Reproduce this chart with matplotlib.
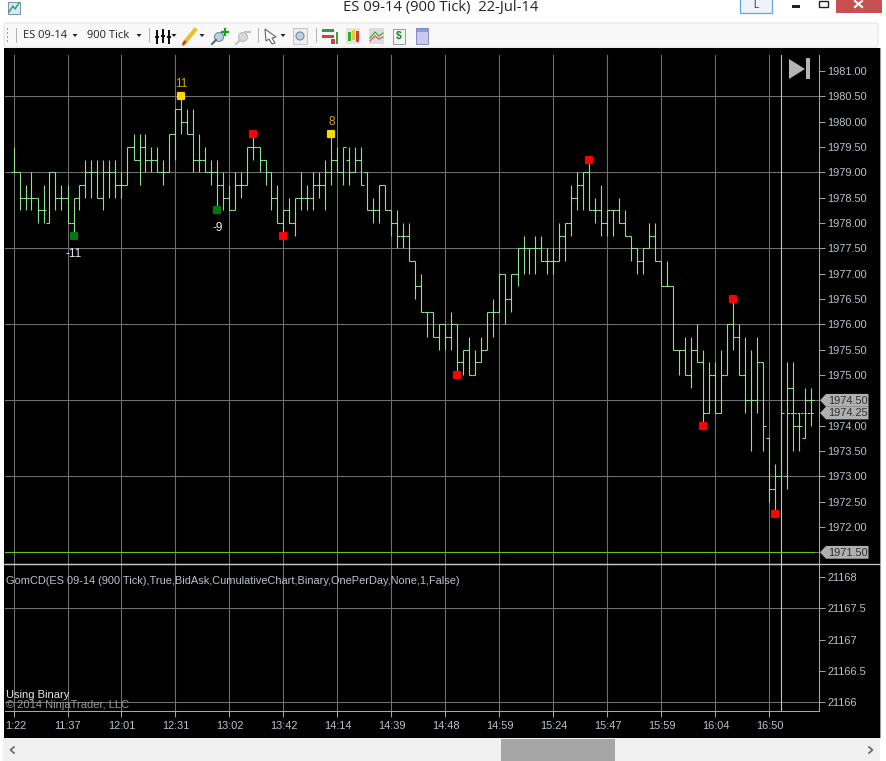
import matplotlib
matplotlib.use("Agg")
import matplotlib.pyplot as plt
from matplotlib.markers import MarkerStyle
from matplotlib.patches import Rectangle, Polygon, Circle, FancyBboxPatch
from matplotlib.transforms import ScaledTranslation

plt.rcParams['font.family'] = ['Liberation Sans', 'DejaVu Sans']

# ---- data ----
highs = [1979.5,1979,1978.75,1979,1978.5,1978.75,1979,1979,1978.75,1978.75,
 1978.5,1978.75,1979.25,1979.25,1979.25,1979.25,1979.25,1979.25,1979,1979.5,
 1979.75,1979.75,1979.75,1979.5,1979.5,1979.25,1979.75,1980.25,1980.5,1980.25,
 1980.25,1979.75,1979.5,1979.25,1979.25,1979,1978.75,1979,1979,1979.5,
 1979.75,1979.5,1979.25,1979,1978.75,1978.25,1978.5,1978.5,1979,1978.75,
 1979,1979,1979.25,1979.75,1979.5,1979.5,1979.5,1979.5,1979.5,1979,
 1978.5,1978.75,1978.75,1978.25,1978.25,1978,1978,1977.25,1977,1976.25,
 1976.25,1976,1976,1976.25,1976,1975.5,1975.75,1975.5,1975.75,1976.25,
 1976.5,1977,1977,1977,1977.5,1977.75,1977.5,1977.75,1977.75,1977.5,
 1977.5,1978,1978,1978.75,1979,1979,1979.25,1978.5,1978.75,1978.25,
 1978.25,1978.5,1978.25,1977.75,1977.5,1977.5,1978,1978,1977.25,1977.25,
 1976.75,1975.5,1975.75,1975.75,1976,1975.5,1975.25,1975.25,1975.5,1976,
 1976.5,1976,1975.75,1975.5,1975.75,1975.25,1973.75,1973.25,1974.5,1975.25,
 1975.25,1974.25,1974.75,1974.75]
lows = [1979,1978.25,1978.25,1978.25,1978,1978,1978,1978.25,1978.25,1978,
 1977.75,1978.25,1978.5,1978.5,1978.5,1978.25,1978.5,1978.5,1978.5,1978.75,
 1979.25,1978.75,1979,1979,1979,1978.75,1979,1979.25,1979.75,1979.75,
 1979,1979,1979,1978.75,1978.25,1978.25,1978.25,1978.25,1978.5,1978.75,
 1979.25,1979,1978.75,1978.25,1978,1977.75,1978,1977.75,1978.25,1978.25,
 1978.25,1978.5,1978.25,1978.75,1979,1978.75,1978.75,1979,1978.75,1978.25,
 1978,1978,1978.25,1977.75,1977.5,1977.5,1977.25,1976.5,1976.25,1975.75,
 1975.75,1975.5,1975.5,1975.5,1975,1975,1975,1975,1975.25,1975.5,
 1975.75,1976.25,1976,1976.25,1976.75,1977,1977,1977,1977.25,1977,
 1977,1977.25,1977.25,1977.75,1978.25,1978.25,1978.25,1978,1977.75,1977.75,
 1977.75,1978,1977.75,1977.25,1977,1977,1977.5,1977.25,1976.75,1976.75,
 1975.5,1975,1975,1974.75,1975.25,1974,1974.25,1974.25,1974.25,1975,
 1975.5,1975,1974.25,1973.5,1974.25,1973.5,1972.5,1972.25,1973,1972.75,
 1973.5,1973.5,1973.75,1974]
opens = [1979,1979,1978.5,1978.5,1978.5,1978.25,1978,1979,1978.5,1978.5,
 1978,1978.5,1978.75,1979,1979,1978.5,1979,1979,1978.75,1978.75,
 1979.5,1979.25,1979.5,1979.25,1979.25,1979,1979,1979.75,1980.25,1980,
 1979.75,1979.25,1979.25,1979,1979,1978.75,1978.5,1978.25,1978.75,1978.75,
 1979.5,1979.5,1979.25,1979,1978.5,1978,1978.25,1978,1978.5,1978.5,
 1978.5,1978.75,1978.75,1979,1979.25,1979,1979.25,1979,1979.25,1979,
 1978.25,1978.25,1978.75,1978.25,1978,1977.75,1977.75,1977.25,1976.75,1976.25,
 1976.25,1975.75,1976,1975.75,1976,1975.25,1975.5,1975,1975.25,1975.5,
 1976.25,1976.25,1977,1976.5,1977,1977.5,1977.5,1977.5,1977.5,1977.25,
 1977.25,1977.25,1977.75,1978,1978.5,1978.75,1979,1978.25,1978.25,1978,
 1978.25,1978.25,1978,1977.75,1977.5,1977.25,1977.5,1977.75,1977.25,1976.75,
 1976.75,1975.5,1975.5,1975,1975.5,1975.25,1974.25,1975,1974.25,1975,
 1976,1975.75,1975,1974.5,1974.5,1975.25,1973.75,1972.75,1973,1973,
 1974.75,1974,1973.75,1974.5]
closes = [1979,1978.5,1978.5,1978.5,1978.25,1978.25,1979,1978.5,1978.5,1978,
 1978.5,1978.75,1979,1979,1978.5,1979,1979,1978.75,1978.75,1979.5,
 1979.25,1979.5,1979.25,1979.25,1979,1979,1979.75,1980.25,1980,1979.75,
 1979.25,1979.25,1979,1979,1978.75,1978.5,1978.25,1978.75,1978.75,1979.5,
 1979.5,1979.25,1979,1978.5,1978,1978.25,1978,1978.5,1978.5,1978.5,
 1978.75,1978.75,1979,1979.25,1979,1979.5,1979,1979.25,1978.75,1978.25,
 1978.25,1978.75,1978.25,1978,1977.75,1977.75,1977.25,1976.75,1976.25,1976.25,
 1975.75,1976,1975.75,1976,1975.25,1975.5,1975,1975.25,1975.5,1976.25,
 1976.25,1977,1976.5,1977,1977.5,1977.5,1977.5,1977.5,1977.25,1977.25,
 1977.25,1977.75,1978,1978.5,1978.75,1979,1978.25,1978.25,1978,1978.25,
 1978.25,1978,1977.75,1977.5,1977.25,1977.5,1977.75,1977.25,1976.75,1976.75,
 1975.5,1975.5,1975,1975.5,1975.25,1974.25,1975,1974.25,1975,1976,
 1975.75,1975,1974.5,1974.5,1975.25,1974,1972.75,1973,1974.25,1974.75,
 1974,1974,1974.5,1974.5]

red_idx = [40, 45, 74, 96, 115, 120, 127]
red_val = [1979.75, 1977.75, 1975, 1979.25, 1974, 1976.5, 1972.25]
green_idx = [10, 34]
green_val = [1977.75, 1978.25]
green_lab = ['-11', '-9']
gold_idx = [28, 53]
gold_val = [1980.5, 1979.75]
gold_lab = ['11', '8']

time_idx = [0, 9, 18, 27, 36, 45, 54, 63, 72, 81, 90, 99, 108, 117, 126]
time_lab = ['1:22','11:37','12:01','12:31','13:02','13:42','14:14','14:39',
            '14:48','14:59','15:24','15:47','15:59','16:04','16:50']
price_ticks = [1981,1980.5,1980,1979.5,1979,1978.5,1978,1977.5,1977,1976.5,
               1976,1975.5,1975,1974,1973.5,1973,1972.5,1972]
price_grid = [1980.5, 1979, 1977.5, 1976, 1974.5, 1973, 1971.5]
flags = [1974.5, 1974.25, 1971.5]
ind_ticks = [21168, 21167.5, 21167, 21166.5, 21166]
ind_lab = ['21168', '21167.5', '21167', '21166.5', '21166']
ind_grid = [21167.5, 21166]
cursor_idx = 128
level_line = 1971.5
last_close = 1974.25

W, H = 887, 761
BAR = '#8ee28e'
GRID = '#707070'
TXT = '#bcc2c8'

fig = plt.figure(figsize=(W/100, H/100), dpi=100, facecolor='white')

# ---- window chrome (pixel coordinates) ----
bg = fig.add_axes([0, 0, 1, 1], zorder=0)
bg.set_xlim(0, W); bg.set_ylim(H, 0); bg.axis('off')
def rect(x0, y0, x1, y1, c, **k):
    bg.add_patch(Rectangle((x0, y0), x1-x0, y1-y0, fc=c, ec='none', **k))
rect(4, 48, 880, 738, 'black')
rect(880, 48, 881, 738, '#9a9a9a')
rect(3, 738, 880, 761, '#f0f0f0')
rect(501, 739, 615, 761, '#a6a6a6')
bg.plot([869, 872.5, 869], [747, 750, 753], color='#666666', lw=1.2)
bg.plot([14, 10.5, 14], [747, 750, 753], color='#666666', lw=1.2)
# toolbar
bg.add_patch(FancyBboxPatch((4, 23), 874, 24, boxstyle='round,pad=0,rounding_size=2',
                            fc='#f8f8f8', ec='#e2e2e2', lw=0.7))
for yy in (28, 32, 36, 40):
    rect(7, yy, 8, yy+1.5, '#9a9a9a')
for xx in (16, 149, 258, 316):
    rect(xx, 28, xx+1, 43, '#b5b5b5')
def arrow(x):
    bg.add_patch(Polygon([(x-2.5, 34), (x+2.5, 34), (x, 37)], fc='#222222', ec='none'))
for xx in (75, 139, 174, 202, 283):
    arrow(xx)
bg.text(23, 35.5, 'ES 09-14', fontsize=8, family=['Open Sans'], va='center', color='#222222')
bg.text(87, 35.5, '900 Tick', fontsize=8, family=['Open Sans'], va='center', color='#222222')
# bars icon
for xx, y0, y1 in ((156, 30, 44), (162, 29, 43), (168, 30, 44)):
    rect(xx, y0, xx+2, y1, '#111111')
    rect(xx-1, (y0+y1)/2-1, xx+3, (y0+y1)/2+1, '#111111')
# pencil
bg.plot([185, 195], [42, 30], color='#e8c030', lw=3)
bg.plot([183.5, 185], [44, 42], color='#c05020', lw=2)
# zoom icons
bg.add_patch(Circle((219, 37), 4.5, fc='#b8d0e8', ec='#7a8a9a', lw=0.8))
bg.plot([212, 216], [44, 40], color='#666666', lw=1.5)
bg.plot([222, 228], [32, 32], color='#20a020', lw=1.6)
bg.plot([225, 225], [29, 35], color='#20a020', lw=1.6)
bg.add_patch(Circle((243, 37), 4.5, fc='#d8d8d8', ec='#bbbbbb', lw=0.8))
bg.plot([236, 240], [44, 40], color='#c4c4c4', lw=1.5)
bg.plot([245, 250], [32, 32], color='#c4c4c4', lw=1.6)
# cursor
bg.add_patch(Polygon([(265, 29), (276, 37), (272, 38), (275, 43), (272, 44), (269, 39), (266, 41)],
                     fc='white', ec='#666666', lw=0.8))
rect(293, 28, 307, 44, '#eeeeee')
bg.add_patch(Rectangle((293, 28), 14, 16, fc='none', ec='#c4c4c4', lw=0.7))
bg.add_patch(Circle((300, 36), 4, fc='#b8d0e8', ec='#7a8a9a', lw=0.8))
# chart-type icons
rect(322, 29, 334, 32, '#30a030'); rect(322, 35, 334, 38, '#d04040')
rect(331, 39, 335, 44, '#d04040'); rect(336, 32, 338, 44, '#40a040')
rect(346, 28, 360, 44, '#e4e4e4')
rect(348, 32, 351, 41, '#30b030'); rect(352, 30, 355, 40, '#e0d030'); rect(356, 31, 359, 42, '#d04040')
rect(369, 28, 384, 44, '#dcdcdc')
bg.plot([370, 375, 379, 383], [38, 32, 36, 33], color='#40b040', lw=0.9)
bg.plot([370, 375, 379, 383], [41, 36, 39, 37], color='#d06060', lw=0.9)
rect(393, 29, 405, 44, '#f4f4f4')
bg.add_patch(Rectangle((393, 29), 12, 15, fc='none', ec='#999999', lw=0.7))
bg.text(399, 36.5, '$', fontsize=7.5, weight='bold', color='#208040', ha='center', va='center')
rect(416, 28, 428, 44, '#c8c8ee')
rect(416, 28, 428, 32, '#7fa0d8')
bg.add_patch(Rectangle((416, 28), 12, 16, fc='none', ec='#8a8ac8', lw=0.7))
# window title + buttons
bg.text(441, 7.5, 'ES 09-14 (900 Tick)  22-Jul-14', fontsize=10.6, family=['Open Sans'],
        ha='center', va='center', color='#222222')
rect(8, 2, 20, 14, '#dce6f2')
bg.plot([9, 13, 15, 19], [12, 6, 9, 3], color='#30a050', lw=1)
bg.add_patch(Rectangle((8, 2), 12, 12, fc='none', ec='#7090b8', lw=0.7))
rect(740, 0, 772, 13, '#eef3f9')
bg.add_patch(Rectangle((740, -2), 32, 15, fc='none', ec='#5ca8e0', lw=0.9))
bg.text(756, 4.5, 'L', fontsize=7, color='#333333', ha='center', va='center')
rect(792, 5, 800, 7.5, '#222222')
bg.add_patch(Rectangle((819, 1), 9, 6, fc='none', ec='#222222', lw=1))
rect(836, 0, 882, 13, '#c75050')
bg.plot([855, 862], [1, 7], color='white', lw=1.5)
bg.plot([855, 862], [7, 1], color='white', lw=1.5)
# jump-to-end icon on the chart
bg.add_patch(Polygon([(789, 59), (805, 69), (789, 79)], fc='#b4b4b4', ec='none'))
rect(806, 58, 810, 79, '#b4b4b4')

# ---- price panel ----
X0, X1 = 5.0, 819.5
Y_T, Y_S, Y_B = 55.0, 564.0, 711.3
xlim = ((X0-13.5)/6, (X1-13.5)/6)
def price(y):
    return 1979 - (y-172.3)/50.67
def indic(y):
    return 21166 + (702.3-y)/62.67

ax = fig.add_axes([X0/W, 1-Y_S/H, (X1-X0)/W, (Y_S-Y_T)/H], zorder=2)
ax2 = fig.add_axes([X0/W, 1-Y_B/H, (X1-X0)/W, (Y_B-Y_S)/H], zorder=2)
ax.set_ylim(price(Y_S), price(Y_T))
ax2.set_ylim(indic(Y_B), indic(Y_S))
for a in (ax, ax2):
    a.patch.set_alpha(0)
    a.set_xlim(*xlim)
    a.set_xticks(time_idx)
    a.yaxis.tick_right()
    a.grid(axis='x', color=GRID, lw=0.75, zorder=1)
    a.set_axisbelow(True)
    for s in ('left', 'top'):
        a.spines[s].set_visible(False)
    a.spines['right'].set_color('#a8a8a8'); a.spines['right'].set_linewidth(0.75)
    a.tick_params(axis='y', length=4.5, width=0.75, color='#a0a0a0', labelcolor=TXT,
                  labelsize=7.9, pad=1)
ax.spines['bottom'].set_color('#c8c8c8'); ax.spines['bottom'].set_linewidth(0.9)
ax2.spines['bottom'].set_color('#a8a8a8'); ax2.spines['bottom'].set_linewidth(0.75)
ax.tick_params(axis='x', length=0, labelbottom=False)
ax2.tick_params(axis='x', length=4.5, width=0.75, color='#a0a0a0', labelcolor=TXT,
                labelsize=7.9, pad=2.5)
ax2.set_xticklabels(time_lab)
t0 = ax2.xaxis.get_major_ticks()[0].label1
t0.set_transform(t0.get_transform() + ScaledTranslation(2.5/100, 0, fig.dpi_scale_trans))

ax.set_yticks(price_ticks)
ax.set_yticklabels([f'{v:.2f}' for v in price_ticks])
ax2.set_yticks(ind_ticks)
ax2.set_yticklabels(ind_lab)

for v in price_grid:
    ax.axhline(v, color=GRID, lw=0.75, zorder=1)
for v in ind_grid:
    ax2.axhline(v, color=GRID, lw=0.75, zorder=1)
ax.axvline(cursor_idx, color='#c4c4c4', lw=0.8, zorder=1.5)
ax2.axvline(cursor_idx, color='#c4c4c4', lw=0.8, zorder=1.5)

idx = list(range(len(highs)))
ax.vlines(idx, lows, highs, color=BAR, lw=0.8, zorder=3)
ax.hlines(opens, [i-0.5 for i in idx], idx, color=BAR, lw=0.8, zorder=3)
ax.hlines(closes, idx, [i+0.5 for i in idx], color=BAR, lw=0.8, zorder=3)

ax.plot([xlim[0], idx[-1]+0.4], [level_line, level_line], color='#66c414', lw=0.8, zorder=3)
ax.plot([idx[-5], idx[-1]+0.4], [last_close, last_close], color='#e8c8c8', lw=0.7,
        ls=(0, (2.5, 1)), zorder=3.5)

mk = MarkerStyle('s', joinstyle='round')
def dots(i, v, c):
    ln, = ax.plot(i, v, ls='none', marker=mk, ms=4.2, mfc=c, mec=c, mew=1.6, zorder=4)
    ln.set_snap(False)
dots(red_idx, red_val, '#ff0000')
dots(green_idx, green_val, '#007a10')
dots(gold_idx, gold_val, '#ffd700')
for i, v, s in zip(green_idx, green_val, green_lab):
    ax.annotate(s, (i, v), xytext=(0, -13), textcoords='offset points', ha='center',
                va='center', fontsize=8.5, color='#e6eef8', zorder=4)
for i, v, s in zip(gold_idx, gold_val, gold_lab):
    ax.annotate(s, (i, v), xytext=(0, 8.6), textcoords='offset points', ha='center',
                va='center', fontsize=8.5, color='#d8a800', zorder=4)

# indicator texts
ax2.text(1/814.5, 1-(581.5-Y_S)/(Y_B-Y_S), 'GomCD(ES 09-14 (900 Tick),True,BidAsk,CumulativeChart,Binary,OnePerDay,None,1,False)',
         transform=ax2.transAxes, fontsize=7.94, color=TXT, va='center', ha='left')
ax2.text(1/814.5, 1-(695.5-Y_S)/(Y_B-Y_S), 'Using Binary', transform=ax2.transAxes,
         fontsize=8, color='#e8e8e8', va='center', ha='left')
ax2.text(1/814.5, 1-(704.5-Y_S)/(Y_B-Y_S), '© 2014 NinjaTrader, LLC', transform=ax2.transAxes,
         fontsize=8.05, color='#9a9a9a', va='center', ha='left')

# panel separator and price flags, placed from the price scale
over = fig.add_axes([0, 0, 1, 1], zorder=3)
over.set_xlim(0, W); over.set_ylim(H, 0); over.axis('off')
over.add_line(plt.Line2D([4, 880], [Y_S, Y_S], color='#c8c8c8', lw=0.9))
fig.canvas.draw()
for v in flags:
    ypx = H - ax.transData.transform((0, v))[1]
    over.add_patch(Polygon([(820, ypx), (826, ypx-6.4), (868.5, ypx-6.4),
                            (868.5, ypx+6.4), (826, ypx+6.4)], fc='#b0b0b0', ec='none'))
    over.text(828, ypx+0.3, f'{v:.2f}', fontsize=7.9, color='#303030', va='center', ha='left')

fig.savefig('out.png', dpi=100, facecolor='white')
